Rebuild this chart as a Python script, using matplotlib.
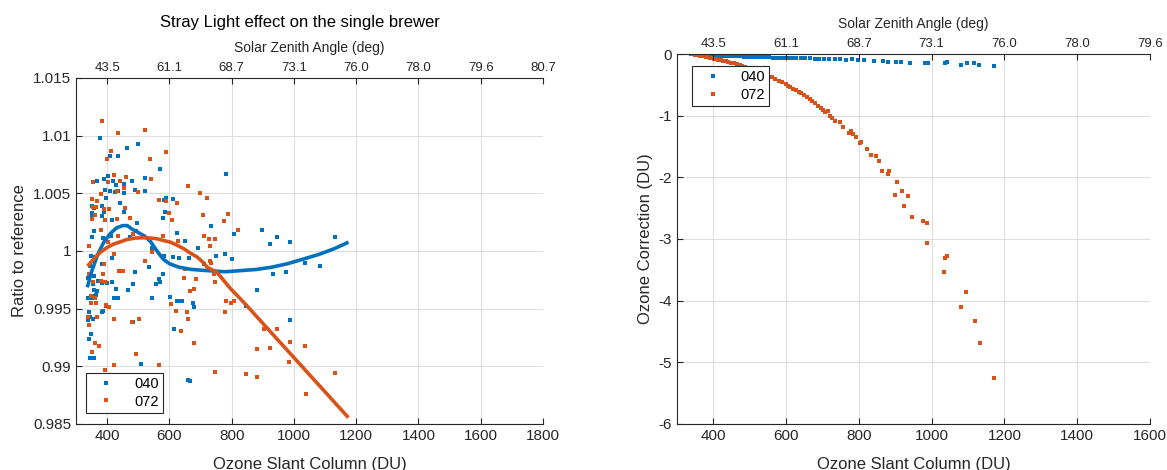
import matplotlib.pyplot as plt

plt.rcParams['font.family'] = ['Liberation Sans', 'DejaVu Sans']
plt.rcParams['axes.unicode_minus'] = False

# colours (MATLAB defaults)
c040 = '#0072BD'
c072 = '#D95319'
dark = '#262626'

# --- left panel: ratio to reference ---
ratio_040_x = [378, 500, 463, 409, 436, 569, 783, 368, 389, 404, 418, 429, 434, 454, 481, 521,
               394, 410, 425, 454, 488, 521, 398, 443, 384, 353, 590, 611, 582, 353, 350, 358,
               384, 389, 415, 496, 454, 580, 585, 359, 387, 412, 352, 475, 493, 544, 649, 624,
               691, 733, 749, 779, 800, 807, 899, 922, 946, 986, 1035, 1084, 1133, 582, 612, 632,
               662, 347, 362, 384, 416, 534, 344, 339, 358, 355, 372, 382, 357, 353, 366, 364,
               399, 417, 430, 435, 421, 466, 483, 488, 339, 348, 356, 395, 388, 382, 341, 340,
               354, 345, 349, 341, 344, 357, 535, 579, 568, 557, 571, 543, 483, 508, 603, 623,
               629, 639, 676, 679, 614, 660, 667, 712, 932, 976, 882, 846, 986]
ratio_040_y = [1.0098, 1.0093, 1.0089, 1.0082, 1.0082, 1.0071, 1.0067, 1.0061, 1.0062, 1.0065,
               1.0061, 1.0057, 1.0052, 1.0058, 1.0061, 1.0063, 1.0053, 1.0052, 1.0051, 1.0050,
               1.0053, 1.0052, 1.0046, 1.0042, 1.0039, 1.0039, 1.0046, 1.0045, 1.0044, 1.0033,
               1.0030, 1.0037, 1.0030, 1.0034, 1.0027, 1.0024, 1.0034, 1.0029, 1.0034, 1.0017,
               1.0011, 1.0013, 1.0012, 1.0012, 1.0017, 1.0003, 1.0009, 1.0016, 1.0003, 1.0022,
               0.9996, 0.9997, 0.9993, 1.0015, 1.0018, 1.0006, 1.0012, 1.0008, 0.9990, 0.9987,
               1.0012, 0.9996, 0.9995, 0.9994, 0.9994, 0.9996, 0.9995, 0.9989, 0.9994, 0.9986,
               0.9987, 0.9977, 0.9978, 0.9971, 0.9974, 0.9972, 0.9966, 0.9961, 0.9965, 0.9962,
               0.9972, 0.9973, 0.9967, 0.9959, 0.9959, 0.9966, 0.9971, 0.9982, 0.9959, 0.9959,
               0.9959, 0.9952, 0.9948, 0.9947, 0.9947, 0.9940, 0.9941, 0.9943, 0.9928, 0.9924,
               0.9907, 0.9907, 0.9986, 0.9980, 0.9976, 0.9971, 0.9973, 0.9959, 0.9938, 0.9902,
               0.9960, 0.9957, 0.9957, 0.9957, 0.9955, 0.9951, 0.9932, 0.9888, 0.9887, 0.9989,
               0.9980, 0.9982, 0.9966, 0.9952, 0.9940]

ratio_072_x = [384, 435, 521, 588, 413, 400, 537, 421, 461, 542, 440, 402, 354, 380, 454, 498,
               433, 660, 699, 721, 351, 368, 356, 365, 389, 407, 457, 567, 588, 623, 600, 610,
               709, 789, 774, 353, 360, 393, 432, 474, 380, 434, 483, 403, 580, 629, 711, 727,
               745, 732, 821, 544, 522, 732, 421, 342, 342, 354, 349, 360, 364, 349, 340, 342,
               350, 373, 366, 361, 389, 387, 379, 393, 397, 405, 421, 394, 421, 494, 502, 480,
               437, 451, 568, 604, 620, 638, 657, 661, 678, 666, 678, 684, 648, 651, 735, 742,
               746, 748, 779, 783, 799, 807, 845, 882, 882, 905, 922, 945, 984, 986, 1035, 1040,
               1133]
ratio_072_y = [1.0113, 1.0102, 1.0105, 1.0086, 1.0087, 1.0080, 1.0080, 1.0066, 1.0064, 1.0062,
               1.0061, 1.0060, 1.0060, 1.0049, 1.0055, 1.0051, 1.0052, 1.0056, 1.0050, 1.0046,
               1.0045, 1.0043, 1.0038, 1.0038, 1.0036, 1.0036, 1.0037, 1.0044, 1.0043, 1.0042,
               1.0033, 1.0027, 1.0031, 1.0032, 1.0026, 1.0028, 1.0031, 1.0027, 1.0028, 1.0029,
               1.0018, 1.0013, 1.0015, 1.0008, 1.0013, 1.0009, 1.0013, 1.0010, 1.0010, 1.0004,
               1.0018, 0.9999, 0.9991, 0.9991, 0.9997, 1.0004, 0.9980, 0.9973, 0.9961, 0.9959,
               0.9955, 0.9955, 0.9943, 0.9936, 0.9912, 0.9918, 0.9943, 0.9920, 0.9989, 0.9980,
               0.9974, 0.9973, 0.9953, 0.9951, 0.9941, 0.9897, 0.9901, 0.9911, 0.9941, 0.9938,
               0.9983, 0.9983, 0.9901, 0.9954, 0.9948, 0.9931, 0.9947, 0.9941, 0.9920, 0.9965,
               0.9967, 0.9976, 0.9977, 0.9984, 0.9990, 0.9980, 0.9973, 0.9895, 0.9947, 0.9957,
               0.9955, 0.9957, 0.9893, 0.9915, 0.9891, 0.9932, 0.9916, 0.9932, 0.9904, 0.9921,
               0.9918, 0.9876, 0.9894]

fit_040_x = [338, 350, 370, 390, 410, 430, 450, 465, 480, 500, 520, 540, 560, 580, 600, 630,
             670, 720, 780, 830, 880, 930, 980, 1030, 1080, 1130, 1170]
fit_040_y = [0.9970, 0.9982, 0.9997, 1.0008, 1.0015, 1.0020, 1.0022, 1.0022, 1.0019, 1.0016,
             1.0013, 1.0008, 1.0000, 0.9993, 0.9989, 0.9986, 0.9984, 0.9983, 0.9982, 0.9983,
             0.9984, 0.9986, 0.9989, 0.9993, 0.9997, 1.0002, 1.0007]
fit_072_x = [341, 360, 379, 400, 421, 443, 464, 490, 518, 540, 560, 582, 603, 625, 646, 668,
             689, 705, 721, 753, 796, 844, 892, 946, 999, 1053, 1110, 1171]
fit_072_y = [0.9988, 0.9994, 0.9999, 1.0003, 1.0006, 1.0008, 1.0010, 1.00112, 1.00115, 1.00112,
             1.00106, 1.0009, 1.00077, 1.0005, 1.0002, 0.9998, 0.99948, 0.9991, 0.9986, 0.99814,
             0.99675, 0.99540, 0.99397, 0.99236, 0.99079, 0.98918, 0.98749, 0.98567]

# --- right panel: ozone correction ---
corr_040_x = [338, 342, 346, 350, 353, 356, 360, 363, 367, 370, 374, 378, 382, 386, 390, 395,
              400, 405, 410, 415, 420, 426, 432, 438, 444, 450, 457, 464, 471, 478, 485, 493,
              501, 509, 517, 526, 535, 544, 553, 563, 573, 583, 594, 605, 616, 628, 640, 652,
              665, 678, 691, 705, 719, 734, 749, 765, 781, 798, 815, 842, 866, 880, 902, 916,
              940, 981, 989, 1036, 1041, 1081, 1096, 1116, 1131, 1171]
corr_040_y = [-0.002, -0.004, -0.006, -0.005, -0.008, -0.007, -0.010, -0.009, -0.012, -0.011,
              -0.014, -0.013, -0.016, -0.018, -0.017, -0.020, -0.022, -0.021, -0.025, -0.024,
              -0.027, -0.029, -0.028, -0.032, -0.031, -0.035, -0.034, -0.038, -0.040, -0.039,
              -0.043, -0.045, -0.044, -0.048, -0.050, -0.049, -0.053, -0.055, -0.054, -0.058,
              -0.060, -0.059, -0.064, -0.062, -0.067, -0.065, -0.070, -0.072, -0.068, -0.076,
              -0.073, -0.080, -0.078, -0.085, -0.082, -0.090, -0.088, -0.097, -0.094, -0.109,
              -0.115, -0.126, -0.137, -0.126, -0.153, -0.142, -0.153, -0.142, -0.126, -0.180,
              -0.153, -0.153, -0.180, -0.190]
corr_072_x = [338, 342, 346, 350, 354, 358, 362, 366, 370, 375, 380, 385, 390, 396, 402, 408,
              414, 420, 427, 434, 441, 448, 456, 464, 472, 480, 488, 496, 505, 514, 523, 532,
              541, 550, 560, 570, 580, 590, 600, 605, 612, 620, 628, 636, 642, 650, 658, 665,
              670, 680, 688, 695, 702, 708, 714, 720, 726, 733, 749, 756, 772, 779, 785, 791,
              802, 807, 821, 832, 846, 854, 864, 881, 883, 905, 900, 919, 936, 923, 946, 976,
              987, 988, 1041, 1037, 1034, 1095, 1082, 1120, 1132, 1171]
corr_072_y = [0.000, -0.004, -0.008, -0.012, -0.016, -0.020, -0.025, -0.030, -0.034, -0.040,
              -0.046, -0.052, -0.058, -0.066, -0.074, -0.082, -0.090, -0.098, -0.108, -0.118,
              -0.128, -0.138, -0.150, -0.163, -0.176, -0.190, -0.206, -0.222, -0.240, -0.262,
              -0.282, -0.305, -0.328, -0.352, -0.378, -0.405, -0.432, -0.462, -0.490, -0.520,
              -0.540, -0.560, -0.585, -0.620, -0.640, -0.665, -0.700, -0.730, -0.770, -0.790,
              -0.840, -0.880, -0.900, -0.940, -0.930, -1.000, -1.040, -1.090, -1.110, -1.190,
              -1.280, -1.250, -1.300, -1.350, -1.440, -1.420, -1.540, -1.640, -1.650, -1.740,
              -1.900, -1.950, -1.900, -2.070, -2.280, -2.220, -2.300, -2.460, -2.650, -2.710,
              -2.740, -3.060, -3.280, -3.310, -3.540, -3.860, -4.100, -4.330, -4.680, -5.250]

# ticks
left_xticks = [400, 600, 800, 1000, 1200, 1400, 1600, 1800]
left_sza = ['43.5', '61.1', '68.7', '73.1', '76.0', '78.0', '79.6', '80.7']
left_yticks = [0.985, 0.99, 0.995, 1, 1.005, 1.01, 1.015]
left_ylabels = ['0.985', '0.99', '0.995', '1', '1.005', '1.01', '1.015']
right_xticks = [400, 600, 800, 1000, 1200, 1400, 1600]
right_sza = ['43.5', '61.1', '68.7', '73.1', '76.0', '78.0', '79.6']
right_yticks = [-6, -5, -4, -3, -2, -1, 0]
right_ylabels = ['-6', '-5', '-4', '-3', '-2', '-1', '0']


def style_axes(ax, xlim, xticks, sza, ylim, yticks, ylabels):
    ax.set_xlim(xlim)
    ax.set_ylim(ylim)
    ax.set_xticks(xticks)
    ax.set_xticklabels([str(t) for t in xticks])
    ax.set_yticks(yticks)
    ax.set_yticklabels(ylabels)
    ax.grid(True, color='#dedede', linewidth=0.8)
    ax.set_axisbelow(True)
    ax.spines['right'].set_visible(False)
    ax.spines['top'].set_visible(False)
    for s in ['left', 'bottom']:
        ax.spines[s].set_color(dark)
        ax.spines[s].set_linewidth(0.8)
    ax.tick_params(direction='in', length=4, width=0.8, color=dark, labelcolor=dark,
                   labelsize=11, top=False, right=False)
    # the reference crops this label at the bottom edge
    ax.set_xlabel('Ozone Slant Column (DU)', fontsize=12, color=dark, labelpad=10)

    top = ax.twiny()
    top.set_xlim(xlim)
    top.set_xticks(xticks)
    top.set_xticklabels(sza)
    for s in ['left', 'right', 'bottom']:
        top.spines[s].set_visible(False)
    top.spines['top'].set_color(dark)
    top.spines['top'].set_linewidth(0.8)
    top.tick_params(direction='in', length=4, width=0.8, color=dark, labelcolor=dark,
                    labelsize=9.5, pad=3)
    top.set_xlabel('Solar Zenith Angle (deg)', fontsize=10, color=dark, labelpad=7)
    return top


fig = plt.figure(figsize=(11.67, 4.70), dpi=100)

ax1 = fig.add_axes([0.0651, 0.0979, 0.4002, 0.7362])
ax1.plot(ratio_040_x, ratio_040_y, 's', color=c040, ms=2.2, mew=0, label='040')
ax1.plot(ratio_072_x, ratio_072_y, 's', color=c072, ms=2.2, mew=0, label='072')
ax1.plot(fit_040_x, fit_040_y, '-', color=c040, lw=2.6)
ax1.plot(fit_072_x, fit_072_y, '-', color=c072, lw=2.6)
style_axes(ax1, (300, 1800), left_xticks, left_sza, (0.985, 1.015), left_yticks, left_ylabels)
ax1.set_ylabel('Ratio to reference', fontsize=12, color=dark)
leg1 = ax1.legend(loc='lower left', bbox_to_anchor=(0.021, 0.032), borderaxespad=0,
                  fancybox=False, edgecolor=dark, framealpha=1, fontsize=10.5,
                  markerscale=1.2, handlelength=2.2, borderpad=0.3, labelspacing=0.25)
leg1.get_frame().set_linewidth(0.8)
fig.text(0.257, 0.953, 'Stray Light effect on the single brewer', ha='center', va='center',
         fontsize=12, color='black')

ax2 = fig.add_axes([0.5801, 0.0979, 0.4053, 0.7872])
ax2.plot(corr_040_x, corr_040_y, 's', color=c040, ms=2.2, mew=0, label='040')
ax2.plot(corr_072_x, corr_072_y, 's', color=c072, ms=2.2, mew=0, label='072')
style_axes(ax2, (300, 1600), right_xticks, right_sza, (-6, 0), right_yticks, right_ylabels)
ax2.set_ylabel('Ozone Correction (DU)', fontsize=12, color=dark)
leg2 = ax2.legend(loc='upper left', bbox_to_anchor=(0.032, 0.968), borderaxespad=0,
                  fancybox=False, edgecolor=dark, framealpha=1, fontsize=10.5,
                  markerscale=1.2, handlelength=2.2, borderpad=0.3, labelspacing=0.25)
leg2.get_frame().set_linewidth(0.8)

fig.savefig('out.png', dpi=100)
